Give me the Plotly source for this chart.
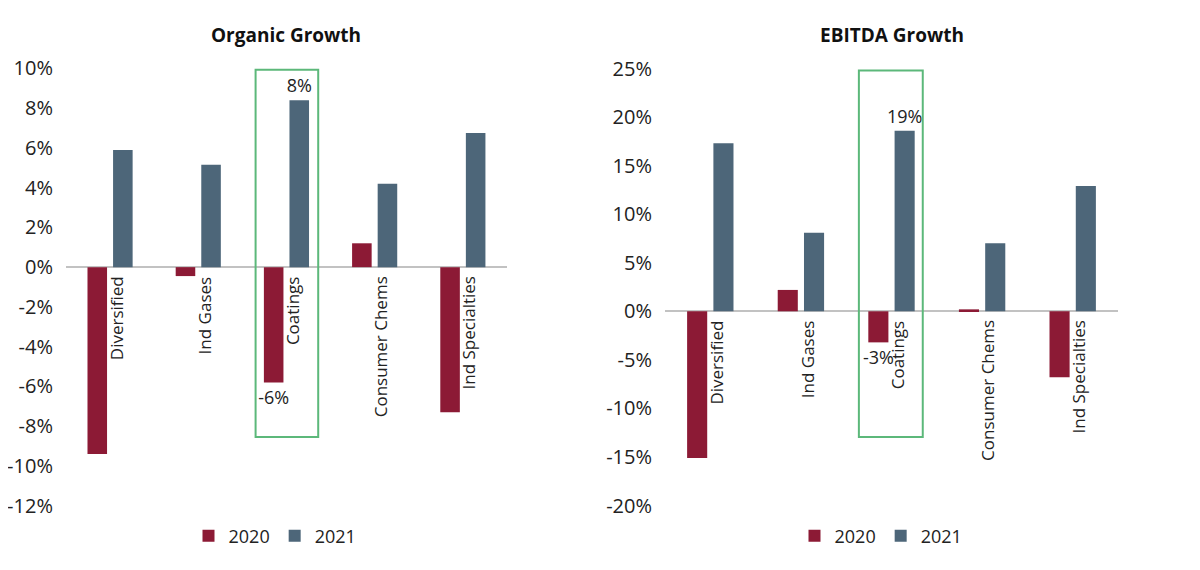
import plotly.graph_objects as go

categories = ["Diversified", "Ind Gases", "Coatings", "Consumer Chems", "Ind Specialties"]
years = ["2020", "2021"]

organic_2020 = [-9.4, -0.45, -5.8, 1.2, -7.3]
organic_2021 = [5.9, 5.15, 8.4, 4.2, 6.75]
organic_labels_2020 = ["", "", "-6%", "", ""]
organic_labels_2021 = ["", "", "8%", "", ""]

ebitda_2020 = [-15.1, 2.2, -3.2, 0.2, -6.8]
ebitda_2021 = [17.3, 8.1, 18.6, 7.0, 12.9]
ebitda_labels_2020 = ["", "", "-3%", "", ""]
ebitda_labels_2021 = ["", "", "19%", "", ""]

organic_ticks = [-12, -10, -8, -6, -4, -2, 0, 2, 4, 6, 8, 10]
organic_ticktext = ["-12%", "-10%", "-8%", "-6%", "-4%", "-2%", "0%", "2%", "4%", "6%", "8%", "10%"]
ebitda_ticks = [-20, -15, -10, -5, 0, 5, 10, 15, 20, 25]
ebitda_ticktext = ["-20%", "-15%", "-10%", "-5%", "0%", "5%", "10%", "15%", "20%", "25%"]

highlight_category = "Coatings"
organic_box = (-8.55, 9.93)
ebitda_box = (-12.95, 24.8)

RED = "#8c1a35"
BLUE = "#4d6679"
GREEN = "#5cb87a"
FONT = "Open Sans"

fig = go.Figure()

def add_pair(v20, v21, l20, l21, xa, ya, leg):
    for name, vals, labs, col in [(years[0], v20, l20, RED), (years[1], v21, l21, BLUE)]:
        fig.add_trace(go.Bar(
            x=categories, y=vals, name=name, marker=dict(color=col, line=dict(width=0)),
            text=labs, textposition="outside", constraintext="none", cliponaxis=False,
            outsidetextfont=dict(family=FONT, size=18, color="#222"),
            xaxis=xa, yaxis=ya, legend=leg, showlegend=True,
        ))

add_pair(organic_2020, organic_2021, organic_labels_2020, organic_labels_2021, "x", "y", "legend")
add_pair(ebitda_2020, ebitda_2021, ebitda_labels_2020, ebitda_labels_2021, "x2", "y2", "legend2")

ydom = [0.1263, 0.8947]
axis_font = dict(family=FONT, size=20, color="#222")

fig.update_layout(
    width=1200, height=570,
    margin=dict(l=0, r=0, t=0, b=0, autoexpand=False),
    paper_bgcolor="white", plot_bgcolor="white",
    barmode="group", bargap=0.42, bargroupgap=0.235,
    font=dict(family=FONT, color="#222"),
    xaxis=dict(domain=[0.0483, 0.4158], showticklabels=False, showgrid=False, zeroline=False,
               showline=False, ticks="", range=[-0.5, 4.5], automargin=False),
    yaxis=dict(domain=ydom, range=[-12.02, 10.02], tickmode="array", tickvals=organic_ticks,
               ticktext=organic_ticktext, automargin=False,
               showgrid=False, zeroline=True, zerolinecolor="#c2c2c2", zerolinewidth=2,
               tickfont=axis_font, ticklabelstandoff=12, showline=False),
    xaxis2=dict(domain=[0.5475, 0.925], anchor="y2", showticklabels=False, showgrid=False,
                zeroline=False, showline=False, ticks="", range=[-0.5, 4.5], automargin=False),
    yaxis2=dict(domain=ydom, anchor="x2", range=[-20.05, 25.05], tickmode="array", tickvals=ebitda_ticks,
                ticktext=ebitda_ticktext, automargin=False,
                showgrid=False, zeroline=True, zerolinecolor="#c2c2c2", zerolinewidth=2,
                tickfont=axis_font, ticklabelstandoff=12, showline=False),
    legend=dict(orientation="h", x=0.2225, xanchor="center", y=0.0737, yanchor="middle",
                font=dict(family=FONT, size=18, color="#222"), itemwidth=30, traceorder="normal"),
    legend2=dict(orientation="h", x=0.7275, xanchor="center", y=0.0737, yanchor="middle",
                 font=dict(family=FONT, size=18, color="#222"), itemwidth=30, traceorder="normal"),
)

# titles
title_y = 0.9526
fig.add_annotation(text="<b>Organic Growth</b>", xref="x domain", yref="paper", x=0.5, y=title_y,
                   showarrow=False, font=dict(family=FONT, size=19, color="#111"), yanchor="middle")
fig.add_annotation(text="<b>EBITDA Growth</b>", xref="x2 domain", yref="paper", x=0.5, y=title_y,
                   showarrow=False, font=dict(family=FONT, size=19, color="#111"), yanchor="middle")

# category labels hanging from zero line
for xr, yr in [("x", "y"), ("x2", "y2")]:
    for c in categories:
        fig.add_annotation(text=c, x=c, y=0, xref=xr, yref=yr, textangle=-90, showarrow=False,
                           xanchor="center", yanchor="top", yshift=-7, xshift=6,
                           font=dict(family=FONT, size=17, color="#222"))

# highlight boxes
hi = categories.index(highlight_category)
fig.add_shape(type="rect", xref="x", yref="y", x0=hi - 0.35, x1=hi + 0.36, y0=organic_box[0], y1=organic_box[1],
              line=dict(color=GREEN, width=2), fillcolor="rgba(0,0,0,0)")
fig.add_shape(type="rect", xref="x2", yref="y2", x0=hi - 0.36, x1=hi + 0.345, y0=ebitda_box[0], y1=ebitda_box[1],
              line=dict(color=GREEN, width=2), fillcolor="rgba(0,0,0,0)")

fig.write_html("out.html")
